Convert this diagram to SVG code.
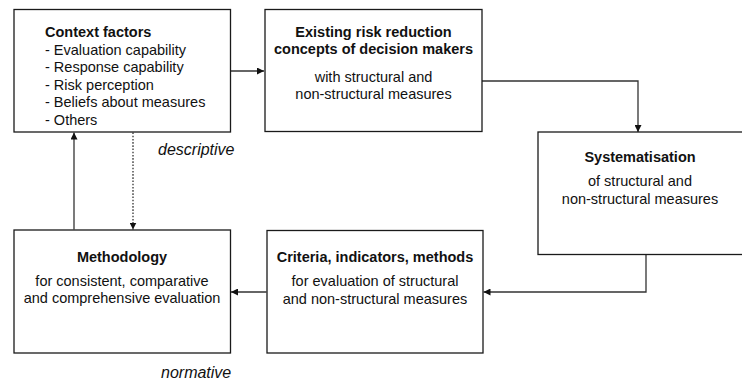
<svg xmlns="http://www.w3.org/2000/svg" width="742" height="381" viewBox="0 0 742 381">
  <style>
    .box { fill: #ffffff; stroke: #1a1a1a; stroke-width: 1.3; }
    .t { font-family: "Liberation Sans", Arial, sans-serif; font-size: 14.5px; fill: #111111; }
    .b { font-weight: bold; }
    .c { text-anchor: middle; }
    .lab { font-family: "Liberation Sans", Arial, sans-serif; font-size: 16px; font-style: italic; fill: #111111; }
    .con { fill: none; stroke: #333333; stroke-width: 1.3; }
    .dot { stroke-dasharray: 1.6 1.6; }
  </style>
  <defs>
    <marker id="arr" viewBox="0 0 10 10" refX="10" refY="5" markerWidth="7" markerHeight="7" markerUnits="userSpaceOnUse" orient="auto">
      <path d="M0,0 L10,5 L0,10 z" fill="#111111"/>
    </marker>
  </defs>

  <rect width="742" height="381" fill="#ffffff"/>

  <g id="connectors">
    <line class="con" x1="231" y1="71" x2="264" y2="71" marker-end="url(#arr)"/>
    <polyline class="con" points="482,81 638,81 638,132" marker-end="url(#arr)"/>
    <polyline class="con" points="646,255 646,292 483.5,292" marker-end="url(#arr)"/>
    <line class="con" x1="266.5" y1="292" x2="231" y2="292" marker-end="url(#arr)"/>
    <line class="con" x1="74" y1="229.5" x2="74" y2="132.5" marker-end="url(#arr)"/>
    <line class="con dot" x1="133" y1="132.5" x2="133" y2="229.5" marker-end="url(#arr)"/>
  </g>

  <g id="context-factors">
    <rect class="box" x="14" y="9.5" width="216.5" height="122.5"/>
    <text class="t b" x="45" y="37">Context factors</text>
    <text class="t" x="45" y="54.5">- Evaluation capability</text>
    <text class="t" x="45" y="72">- Response capability</text>
    <text class="t" x="45" y="89.5">- Risk perception</text>
    <text class="t" x="45" y="107">- Beliefs about measures</text>
    <text class="t" x="45" y="124.5">- Others</text>
  </g>

  <g id="existing-concepts">
    <rect class="box" x="265" y="9.5" width="217" height="122"/>
    <text class="t b c" x="373.5" y="37">Existing risk reduction</text>
    <text class="t b c" x="373.5" y="54">concepts of decision makers</text>
    <text class="t c" x="373.5" y="81.5">with structural and</text>
    <text class="t c" x="373.5" y="99">non-structural measures</text>
  </g>

  <g id="systematisation">
    <rect class="box" x="538" y="132" width="206" height="122.5"/>
    <text class="t b c" x="640" y="162">Systematisation</text>
    <text class="t c" x="640" y="186">of structural and</text>
    <text class="t c" x="640" y="203.5">non-structural measures</text>
  </g>

  <g id="criteria">
    <rect class="box" x="267" y="230.5" width="216" height="122.5"/>
    <text class="t b c" x="375" y="262">Criteria, indicators, methods</text>
    <text class="t c" x="375" y="286">for evaluation of structural</text>
    <text class="t c" x="375" y="303.5">and non-structural measures</text>
  </g>

  <g id="methodology">
    <rect class="box" x="14" y="230" width="216.5" height="123"/>
    <text class="t b c" x="122" y="262">Methodology</text>
    <text class="t c" x="122" y="285.5">for consistent, comparative</text>
    <text class="t c" x="122" y="303">and comprehensive evaluation</text>
  </g>

  <g id="labels">
    <text class="lab" x="158" y="155">descriptive</text>
    <text class="lab" x="161" y="378">normative</text>
  </g>
</svg>
